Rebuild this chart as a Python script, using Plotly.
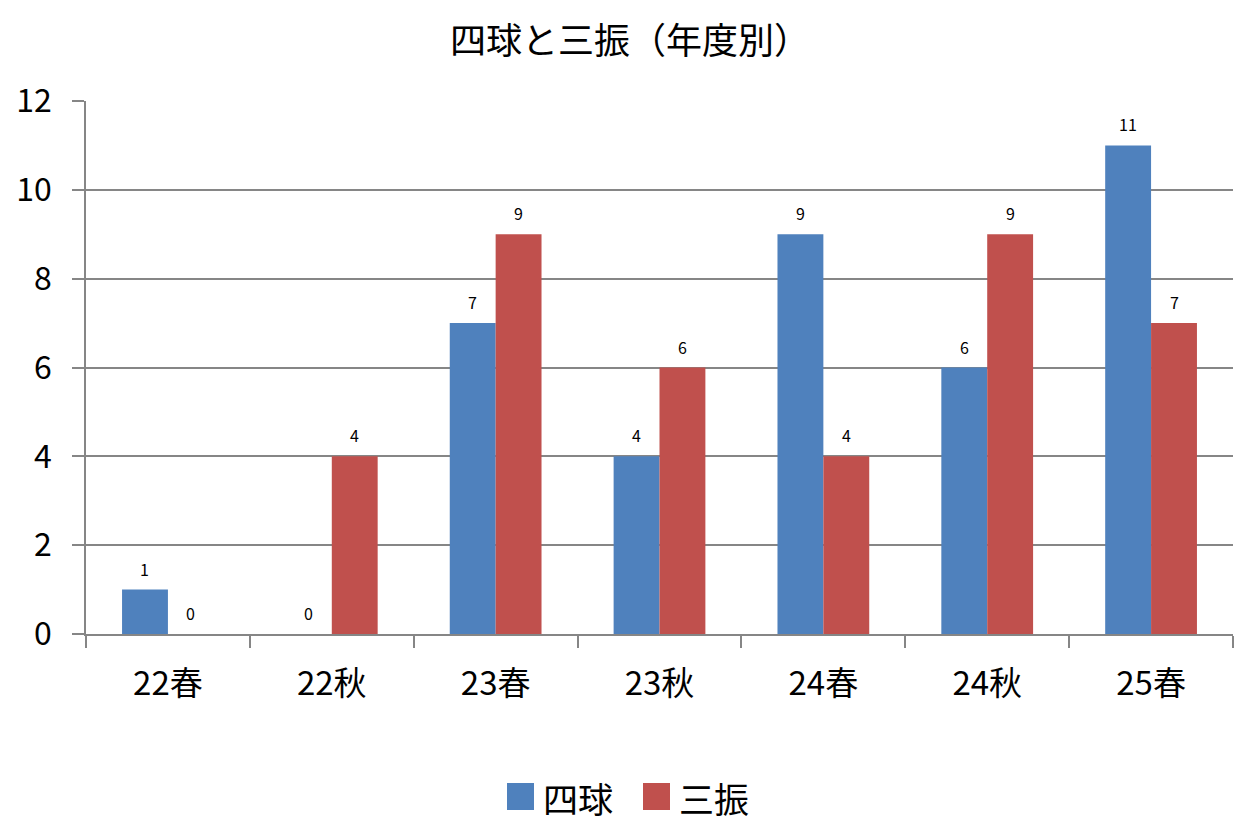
import plotly.graph_objects as go

categories = ["22春", "22秋", "23春", "23秋", "24春", "24秋", "25春"]
walks = [1, 0, 7, 4, 9, 6, 11]
strikeouts = [0, 4, 9, 6, 4, 9, 7]
series_names = ["四球", "三振"]
colors = ["#4F81BD", "#C0504D"]
title_text = "四球と三振（年度別）"
y_ticks = [0, 2, 4, 6, 8, 10, 12]

FONT = "Noto Sans CJK JP, Noto Sans, sans-serif"
GRID = "#868686"

fig = go.Figure()
for name, vals, col in zip(series_names, [walks, strikeouts], colors):
    fig.add_trace(go.Bar(x=categories, y=vals, name=name, marker_color=col,
                         marker_line_width=0, showlegend=False))

# data labels
for i, vals in enumerate([walks, strikeouts]):
    shift = -23 if i == 0 else 23
    for c, v in zip(categories, vals):
        fig.add_annotation(x=c, y=v, text=str(v), showarrow=False,
                           xshift=shift, yshift=21, yanchor="middle",
                           font=dict(family=FONT, size=16, color="#000000"))

# custom legend
L, R, T, B = 86, 1233, 101, 634
def px2x(p):
    return (p - L) / (R - L)
def py2y(p):
    return (B - p) / (B - T)

legend_boxes = [(507, 534, 541), (643, 670, 677)]
for (x0, x1, tx), name, col in zip(legend_boxes, series_names, colors):
    fig.add_shape(type="rect", xref="paper", yref="paper",
                  x0=px2x(x0), x1=px2x(x1), y0=py2y(810), y1=py2y(783),
                  fillcolor=col, line_width=0)
    fig.add_annotation(xref="paper", yref="paper", x=px2x(tx), y=py2y(797),
                       text=name, showarrow=False, xanchor="left", yanchor="middle",
                       font=dict(family=FONT, size=35, color="#000000"))

fig.update_layout(
    width=1260, height=839,
    margin=dict(l=L, r=1260 - R, t=T, b=839 - B),
    paper_bgcolor="white", plot_bgcolor="white",
    barmode="group", bargap=0.44, bargroupgap=0,
    title=dict(text=title_text, x=630 / 1260, xref="container", xanchor="center",
               y=1 - 41 / 839, yanchor="middle",
               font=dict(family=FONT, size=36, color="#000000")),
    font=dict(family=FONT, color="#000000"),
)
fig.update_xaxes(type="category", tickson="boundaries", ticks="outside", ticklen=12,
                 tickcolor=GRID, tickwidth=1.5, showline=True, linecolor=GRID, linewidth=1.5,
                 showgrid=False, tickfont=dict(family=FONT, size=33, color="#000000"),
                 ticklabelstandoff=20)
fig.update_yaxes(range=[0, 12], tickvals=y_ticks, ticks="outside", ticklen=12,
                 tickcolor=GRID, tickwidth=1.5, showline=True, linecolor=GRID, linewidth=1.5,
                 showgrid=True, gridcolor=GRID, gridwidth=1.5, zeroline=False,
                 tickfont=dict(family=FONT, size=32, color="#000000"),
                 ticklabelstandoff=14)

fig.write_html("out.html")
